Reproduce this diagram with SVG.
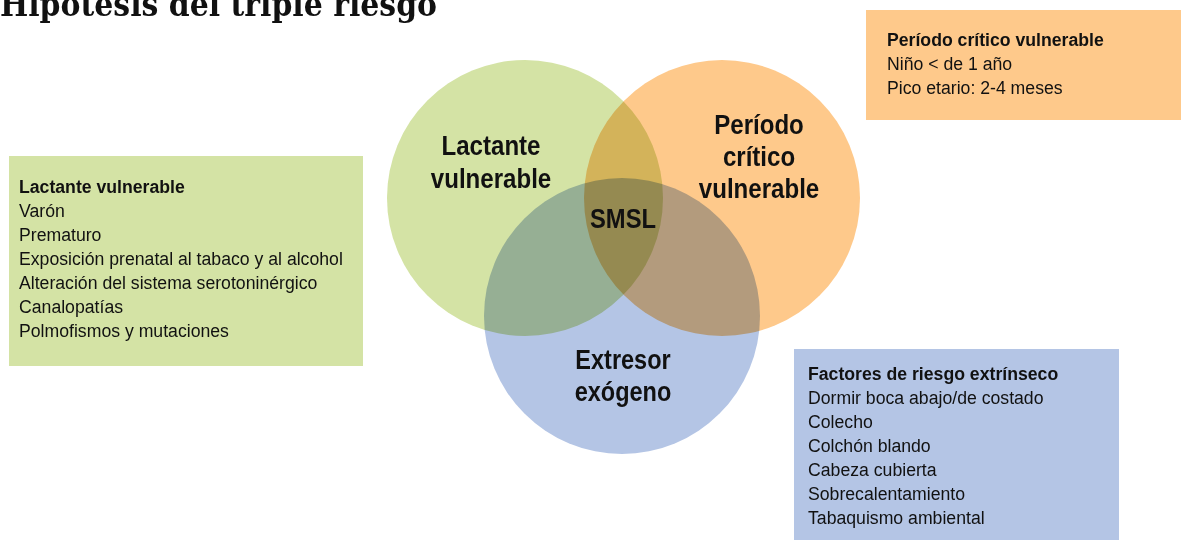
<svg xmlns="http://www.w3.org/2000/svg" width="1181" height="540" viewBox="0 0 1181 540">
<style>
.title{font-family:"DejaVu Serif","Liberation Serif",serif;font-weight:bold;font-size:33px;fill:#111}
.lbl{font-family:"Liberation Sans",Arial,sans-serif;font-weight:bold;font-size:28px;fill:#111;text-anchor:middle}
.bt{font-family:"Liberation Sans",Arial,sans-serif;font-size:19px;fill:#111}
.bh{font-weight:bold}
.c{mix-blend-mode:multiply}
</style>
<rect width="1181" height="540" fill="#fff"/>
<text class="title" x="0" y="16" textLength="437" lengthAdjust="spacingAndGlyphs">Hipótesis del triple riesgo</text>
<g id="venn" style="isolation:isolate">
  <circle id="circle-lactante" class="c" cx="525" cy="198" r="138" fill="#d4e3a5"/>
  <circle id="circle-periodo" class="c" cx="722" cy="198" r="138" fill="#fec98b"/>
  <circle id="circle-extresor" class="c" cx="622" cy="316" r="138" fill="#b4c5e5"/>
</g>
<g id="labels">
  <g transform="translate(491,0) scale(0.86,1)">
    <text class="lbl" x="0" y="155">Lactante</text>
    <text class="lbl" x="0" y="188">vulnerable</text>
  </g>
  <g transform="translate(759,0) scale(0.86,1)">
    <text class="lbl" x="0" y="134">Período</text>
    <text class="lbl" x="0" y="166">crítico</text>
    <text class="lbl" x="0" y="198">vulnerable</text>
  </g>
  <g transform="translate(623,0) scale(0.85,1)">
    <text class="lbl" x="0" y="228">SMSL</text>
  </g>
  <g transform="translate(623,0) scale(0.84,1)">
    <text class="lbl" x="0" y="369">Extresor</text>
    <text class="lbl" x="0" y="401">exógeno</text>
  </g>
</g>
<g id="box-lactante">
  <rect x="9" y="156" width="354" height="210" fill="#d4e3a5"/>
  <g transform="translate(19,0) scale(0.93,1)">
    <text class="bt bh" x="0" y="193">Lactante vulnerable</text>
    <text class="bt" x="0" y="217">Varón</text>
    <text class="bt" x="0" y="241">Prematuro</text>
    <text class="bt" x="0" y="265">Exposición prenatal al tabaco y al alcohol</text>
    <text class="bt" x="0" y="289">Alteración del sistema serotoninérgico</text>
    <text class="bt" x="0" y="313">Canalopatías</text>
    <text class="bt" x="0" y="337">Polmofismos y mutaciones</text>
  </g>
</g>
<g id="box-periodo">
  <rect x="866" y="10" width="315" height="110" fill="#fec98b"/>
  <g transform="translate(887,0) scale(0.93,1)">
    <text class="bt bh" x="0" y="46">Período crítico vulnerable</text>
    <text class="bt" x="0" y="70">Niño &lt; de 1 año</text>
    <text class="bt" x="0" y="94">Pico etario: 2-4 meses</text>
  </g>
</g>
<g id="box-extresor">
  <rect x="794" y="349" width="325" height="191" fill="#b4c5e5"/>
  <g transform="translate(808,0) scale(0.93,1)">
    <text class="bt bh" x="0" y="380">Factores de riesgo extrínseco</text>
    <text class="bt" x="0" y="404">Dormir boca abajo/de costado</text>
    <text class="bt" x="0" y="428">Colecho</text>
    <text class="bt" x="0" y="452">Colchón blando</text>
    <text class="bt" x="0" y="476">Cabeza cubierta</text>
    <text class="bt" x="0" y="500">Sobrecalentamiento</text>
    <text class="bt" x="0" y="524">Tabaquismo ambiental</text>
  </g>
</g>
</svg>
